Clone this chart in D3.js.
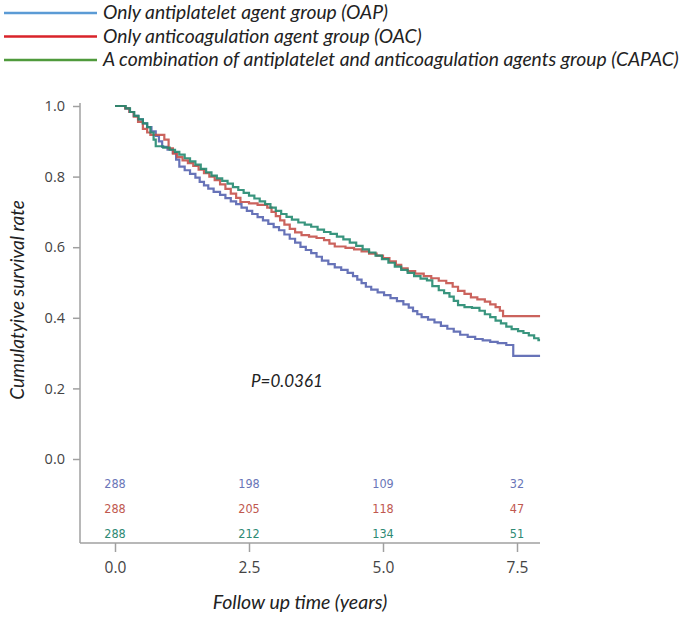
<!DOCTYPE html>
<html><head><meta charset="utf-8">
<script src="https://cdn.jsdelivr.net/npm/d3@7"></script>
<style>
html,body{margin:0;padding:0;background:#fff;}
svg{display:block;}
</style></head>
<body>
<svg id="chart" width="685" height="618"></svg>
<script>
// ---- data ----
const groupNames = ["Only antiplatelet agent group (OAP)",
  "Only anticoagulation agent group (OAC)",
  "A combination of antiplatelet and anticoagulation agents group (CAPAC)"];
const legendColors = ["#5b9bd5", "#d9232a", "#4f9a3c"];
const curveColors = ["#5664b0", "#c5524b", "#238a70"];
const riskColors = ["#6a76b8", "#c0584f", "#2e8a74"];
const xTicks = [0, 2.5, 5.0, 7.5];
const yTicks = [0, 0.2, 0.4, 0.6, 0.8, 1.0];
const riskTimes = [0, 2.5, 5.0, 7.5];
const riskOAP = [288, 198, 109, 32];
const riskOAC = [288, 205, 118, 47];
const riskCAPAC = [288, 212, 134, 51];
const endTime = 7.93;
const pValue = "P=0.0361";

const curveOAP = [[0,1],[0.19,0.993],[0.27,0.983],[0.35,0.972],[0.43,0.962],[0.52,0.951],[0.60,0.94],[0.68,0.928],[0.76,0.915],[0.82,0.9],[0.88,0.884],[0.98,0.876],[1.08,0.867],[1.14,0.848],[1.2,0.828],[1.3,0.818],[1.4,0.808],[1.5,0.797],[1.58,0.785],[1.66,0.775],[1.74,0.766],[1.84,0.757],[1.96,0.748],[2.06,0.739],[2.16,0.73],[2.26,0.722],[2.36,0.712],[2.46,0.703],[2.56,0.694],[2.66,0.685],[2.76,0.676],[2.86,0.666],[2.96,0.657],[3.06,0.648],[3.16,0.636],[3.26,0.624],[3.36,0.613],[3.46,0.601],[3.56,0.592],[3.66,0.583],[3.76,0.573],[3.86,0.562],[3.98,0.552],[4.1,0.543],[4.22,0.536],[4.34,0.527],[4.44,0.518],[4.52,0.508],[4.6,0.498],[4.68,0.488],[4.78,0.48],[4.9,0.472],[5.02,0.464],[5.14,0.456],[5.26,0.447],[5.38,0.438],[5.48,0.429],[5.56,0.419],[5.64,0.41],[5.72,0.402],[5.84,0.395],[5.96,0.387],[6.08,0.377],[6.2,0.369],[6.32,0.361],[6.44,0.352],[6.58,0.346],[6.72,0.34],[6.86,0.336],[7.0,0.332],[7.14,0.328],[7.3,0.323],[7.43,0.292]];

const curveOAC = [[0,1],[0.19,0.993],[0.27,0.983],[0.35,0.97],[0.43,0.955],[0.52,0.935],[0.6,0.925],[0.66,0.918],[0.92,0.905],[1.0,0.88],[1.08,0.865],[1.16,0.855],[1.26,0.846],[1.36,0.838],[1.46,0.83],[1.56,0.82],[1.66,0.81],[1.76,0.8],[1.86,0.79],[1.96,0.778],[2.06,0.765],[2.16,0.752],[2.26,0.74],[2.34,0.728],[2.5,0.724],[2.66,0.72],[2.84,0.712],[2.92,0.7],[3.0,0.688],[3.08,0.676],[3.16,0.664],[3.26,0.652],[3.36,0.642],[3.48,0.634],[3.62,0.63],[3.76,0.626],[3.9,0.62],[4.0,0.61],[4.1,0.602],[4.3,0.598],[4.46,0.594],[4.6,0.588],[4.74,0.582],[4.88,0.576],[5.0,0.569],[5.12,0.56],[5.24,0.55],[5.34,0.54],[5.46,0.532],[5.6,0.525],[5.76,0.518],[5.9,0.512],[6.04,0.505],[6.18,0.498],[6.3,0.488],[6.4,0.476],[6.52,0.468],[6.64,0.458],[6.76,0.452],[6.9,0.446],[7.0,0.438],[7.1,0.43],[7.18,0.42],[7.24,0.405]];

const curveCAPAC = [[0,1],[0.2,0.993],[0.28,0.983],[0.36,0.972],[0.44,0.962],[0.52,0.951],[0.6,0.94],[0.66,0.925],[0.72,0.905],[0.76,0.886],[0.9,0.882],[1.02,0.876],[1.12,0.87],[1.2,0.862],[1.3,0.852],[1.4,0.843],[1.5,0.834],[1.6,0.822],[1.7,0.812],[1.8,0.803],[1.9,0.795],[2.0,0.788],[2.1,0.78],[2.2,0.77],[2.3,0.762],[2.4,0.754],[2.5,0.746],[2.6,0.738],[2.7,0.73],[2.8,0.722],[2.9,0.712],[3.0,0.703],[3.1,0.694],[3.2,0.686],[3.3,0.678],[3.42,0.67],[3.54,0.664],[3.66,0.658],[3.78,0.65],[3.9,0.643],[4.02,0.638],[4.14,0.63],[4.26,0.622],[4.38,0.613],[4.5,0.604],[4.62,0.594],[4.74,0.585],[4.86,0.576],[4.98,0.566],[5.1,0.556],[5.22,0.545],[5.34,0.536],[5.46,0.527],[5.58,0.518],[5.7,0.511],[5.82,0.506],[5.92,0.49],[6.04,0.478],[6.14,0.47],[6.24,0.46],[6.32,0.448],[6.4,0.436],[6.52,0.43],[6.66,0.428],[6.8,0.42],[6.9,0.41],[7.0,0.402],[7.1,0.392],[7.2,0.384],[7.3,0.375],[7.4,0.368],[7.52,0.362],[7.62,0.357],[7.72,0.35],[7.82,0.342],[7.9,0.337]];

// ---- drawing ----
const svg = d3.select("#chart");
const x = d3.scaleLinear().domain([0, 7.5]).range([115, 517]);
const y = d3.scaleLinear().domain([0, 1]).range([459, 106]);
const axisX0 = 80, axisXEnd = 540, axisYBottom = 543, axisYTop = 103;
const axisColor = "#a0a0a0";
const tickFont = "'Open Sans', 'Noto Sans', sans-serif";
const italicFont = "Lato, 'Open Sans', sans-serif";

// legend
const leg = svg.append("g");
groupNames.forEach((name, i) => {
  const yy = 13 + i * 23.5;
  leg.append("line").attr("x1", 4).attr("x2", 97).attr("y1", yy).attr("y2", yy)
    .attr("stroke", legendColors[i]).attr("stroke-width", 2.5);
  leg.append("text").attr("x", 103).attr("y", yy + 6)
    .attr("font-family", italicFont).attr("font-style", "italic")
    .attr("font-size", 19.3).attr("fill", "#222").text(name);
});

// y axis
const yAxis = d3.axisLeft(y).tickValues(yTicks).tickFormat(d3.format(".1f")).tickSize(7).tickPadding(8);
const gy = svg.append("g").attr("transform", `translate(${axisX0},0)`).call(yAxis);
gy.select(".domain").remove();
gy.selectAll("line").attr("stroke", axisColor).attr("stroke-width", 1.5);
gy.selectAll("text").attr("font-family", tickFont).attr("font-size", 14.5).attr("fill", "#444");
svg.append("line").attr("x1", axisX0).attr("x2", axisX0).attr("y1", axisYTop).attr("y2", axisYBottom)
  .attr("stroke", axisColor).attr("stroke-width", 1.5);

// x axis
const xAxis = d3.axisBottom(x).tickValues(xTicks).tickFormat(d3.format(".1f")).tickSize(9).tickPadding(10);
const gx = svg.append("g").attr("transform", `translate(0,${axisYBottom})`).call(xAxis);
gx.select(".domain").remove();
gx.selectAll("line").attr("stroke", axisColor).attr("stroke-width", 1.5);
gx.selectAll("text").attr("font-family", tickFont).attr("font-size", 15.5).attr("fill", "#444");
svg.append("line").attr("x1", axisX0).attr("x2", axisXEnd).attr("y1", axisYBottom).attr("y2", axisYBottom)
  .attr("stroke", axisColor).attr("stroke-width", 1.5);

// curves
const line = d3.line().x(d => x(d[0])).y(d => y(d[1])).curve(d3.curveStepAfter);
[curveOAP, curveOAC, curveCAPAC].forEach((c, i) => {
  const pts = c.concat([[endTime, c[c.length - 1][1]]]);
  svg.append("path").datum(pts).attr("d", line).attr("fill", "none")
    .attr("stroke", curveColors[i]).attr("stroke-width", 2.2).attr("stroke-opacity", 0.9);
});

// numbers at risk
const riskRowsY = [483, 508, 533];
[riskOAP, riskOAC, riskCAPAC].forEach((row, i) => {
  row.forEach((n, j) => {
    svg.append("text").attr("x", x(riskTimes[j])).attr("y", riskRowsY[i] + 4.5)
      .attr("text-anchor", "middle").attr("font-family", "'DejaVu Sans Condensed', 'Liberation Sans Narrow', sans-serif")
      .attr("font-size", 12.5).attr("fill", riskColors[i]).text(n);
  });
});

// p value
svg.append("text").attr("x", 251).attr("y", 387).attr("font-family", italicFont)
  .attr("font-style", "italic").attr("font-size", 17).attr("fill", "#222").text(pValue);

// axis titles
svg.append("text").attr("x", 300).attr("y", 609).attr("text-anchor", "middle")
  .attr("font-family", italicFont).attr("font-style", "italic").attr("font-size", 19.5)
  .attr("fill", "#222").text("Follow up time (years)");
svg.append("text").attr("transform", "translate(24,300) rotate(-90)").attr("text-anchor", "middle")
  .attr("font-family", italicFont).attr("font-style", "italic").attr("font-size", 19)
  .attr("fill", "#222").text("Cumulatyive survival rate");
</script>
</body></html>
